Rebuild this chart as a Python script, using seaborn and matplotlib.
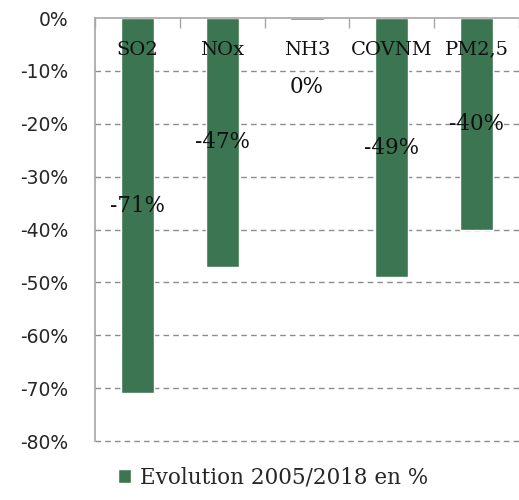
import numpy as np
import pandas as pd
import matplotlib
matplotlib.use("Agg")
import matplotlib.pyplot as plt
import seaborn as sns

polluants = ["SO2", "NOx", "NH3", "COVNM", "PM2,5"]
evolution = [-71, -47, -0.4, -49, -40]
etiquettes = ["-71%", "-47%", "0%", "-49%", "-40%"]
yticks = [0, -10, -20, -30, -40, -50, -60, -70, -80]
serie = "Evolution 2005/2018 en %"

df = pd.DataFrame({"polluant": polluants, "evolution": evolution})

sns.set_style("white")
vert = "#3B7552"
gris = "#A6A6A6"

fig = plt.figure(figsize=(5.19, 5.00), dpi=100)
ax = fig.add_axes([0.183, 0.118, 0.817, 0.846])

sns.barplot(data=df, x="polluant", y="evolution", color=vert, width=0.39,
            saturation=1, ax=ax, label=serie, zorder=2)

ax.set_ylim(-80, 0)
ax.set_xlim(-0.5, 4.5)
ax.set_yticks(yticks)
ax.set_yticklabels([f"{t}%" for t in yticks], fontsize=13.5, family="DejaVu Sans",
                   color="#262626")
for t in yticks[1:]:
    ax.axhline(t, color="#8C8C8C", linestyle=(0, (4, 3)), linewidth=1, zorder=0,
               clip_on=False)

ax.xaxis.tick_top()
ax.set_xticks(np.arange(-0.5, 5, 1))
ax.set_xticklabels([])
ax.tick_params(axis="x", direction="in", length=7, color=gris, width=1)
ax.tick_params(axis="y", direction="inout", length=10, color=gris, width=1, pad=14)
ax.set_xlabel("")
ax.set_ylabel("")

for side in ["right", "bottom"]:
    ax.spines[side].set_visible(False)
for side in ["top", "left"]:
    ax.spines[side].set_color(gris)
    ax.spines[side].set_linewidth(1.2)

for i, (cat, v, lab) in enumerate(zip(polluants, evolution, etiquettes)):
    ax.text(i, -6, cat, ha="center", va="center", fontsize=14, family="DejaVu Serif",
            color="#111111", zorder=3)
    y = v / 2 if abs(v) > 5 else -13
    ax.text(i, y, lab, ha="center", va="center", fontsize=15.5, family="DejaVu Serif",
            color="#111111", zorder=3)

ax.legend(loc="center", bbox_to_anchor=(0.42, -0.087), frameon=False,
          prop={"family": "DejaVu Serif", "size": 15.5}, handlelength=0.6,
          handleheight=0.6, handletextpad=0.4)

fig.savefig("out.png", dpi=100)
